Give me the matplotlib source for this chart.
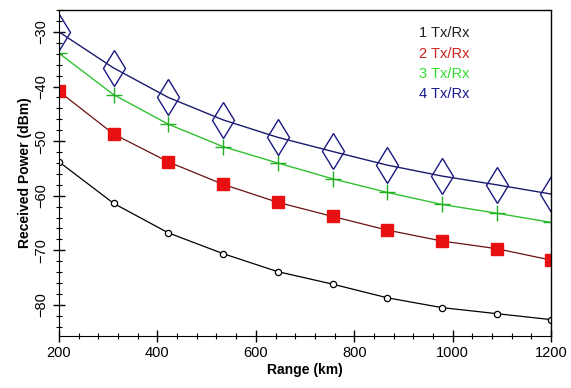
import matplotlib
matplotlib.use("Agg")
import matplotlib.pyplot as plt
from matplotlib.ticker import MultipleLocator

plt.rcParams['font.family'] = ['Liberation Sans', 'DejaVu Sans']

range_km = [200, 311, 422, 533, 644, 756, 867, 978, 1089, 1200]
p1 = [-53.8, -61.4, -66.8, -70.6, -73.9, -76.2, -78.7, -80.5, -81.6, -82.7]
p2 = [-40.9, -48.7, -53.8, -57.9, -61.2, -63.8, -66.3, -68.3, -69.7, -71.8]
p3 = [-33.9, -41.5, -46.9, -51.0, -54.0, -56.9, -59.4, -61.6, -63.2, -64.9]
p4 = [-30.0, -36.6, -42.0, -46.1, -49.3, -51.9, -54.4, -56.4, -58.0, -59.7]
labels = ["1 Tx/Rx", "2 Tx/Rx", "3 Tx/Rx", "4 Tx/Rx"]

fig = plt.figure(figsize=(5.71, 3.88), dpi=100)
ax = fig.add_axes([0.1033, 0.134, 0.862, 0.840])

ax.plot(range_km, p1, color='black', lw=0.9, marker='o', ms=4.5, mfc='white', mec='black', mew=0.9)
ax.plot(range_km, p2, color='#6a1010', lw=0.9, marker='s', ms=8, mfc='#e81010', mec='#e81010')
ax.plot(range_km, p3, color='#30c030', lw=1.0, marker='+', ms=12, mec='#20b020', mew=1.0)
ax.plot(range_km, p4, color='#1a1a70', lw=1.0, marker='d', ms=18, mfc='none', mec='#1a1a80', mew=1.0)

colors = ['#202020', '#d02020', '#30e030', '#1a1a90']
for i, (lab, c) in enumerate(zip(labels, colors)):
    ax.text(0.732, 0.929 - i * 0.0625, lab, color=c, fontsize=10.5, transform=ax.transAxes, va='center', ha='left')

ax.set_xlim(200, 1200)
ax.set_ylim(-85.7, -26)
ax.xaxis.set_major_locator(MultipleLocator(200))
ax.xaxis.set_minor_locator(MultipleLocator(40))
ax.yaxis.set_major_locator(MultipleLocator(10))
ax.yaxis.set_minor_locator(MultipleLocator(2))
ax.tick_params(axis='both', which='major', direction='inout', length=8, width=1.0, labelsize=10.5)
ax.tick_params(axis='both', which='minor', direction='inout', length=5, width=0.8)
for lab in ax.get_yticklabels():
    lab.set_rotation(90)
    lab.set_va('center')

ax.spines['top'].set_linestyle((0, (1, 1)))
ax.spines['right'].set_linestyle((0, (1, 1)))
ax.spines['top'].set_linewidth(1.0)
ax.spines['right'].set_linewidth(1.0)

ax.set_xlabel("Range (km)", fontsize=10, fontweight='bold', labelpad=2)
ax.set_ylabel("Received Power (dBm)", fontsize=10, fontweight='bold', labelpad=2)

fig.savefig("out.png", dpi=100)
